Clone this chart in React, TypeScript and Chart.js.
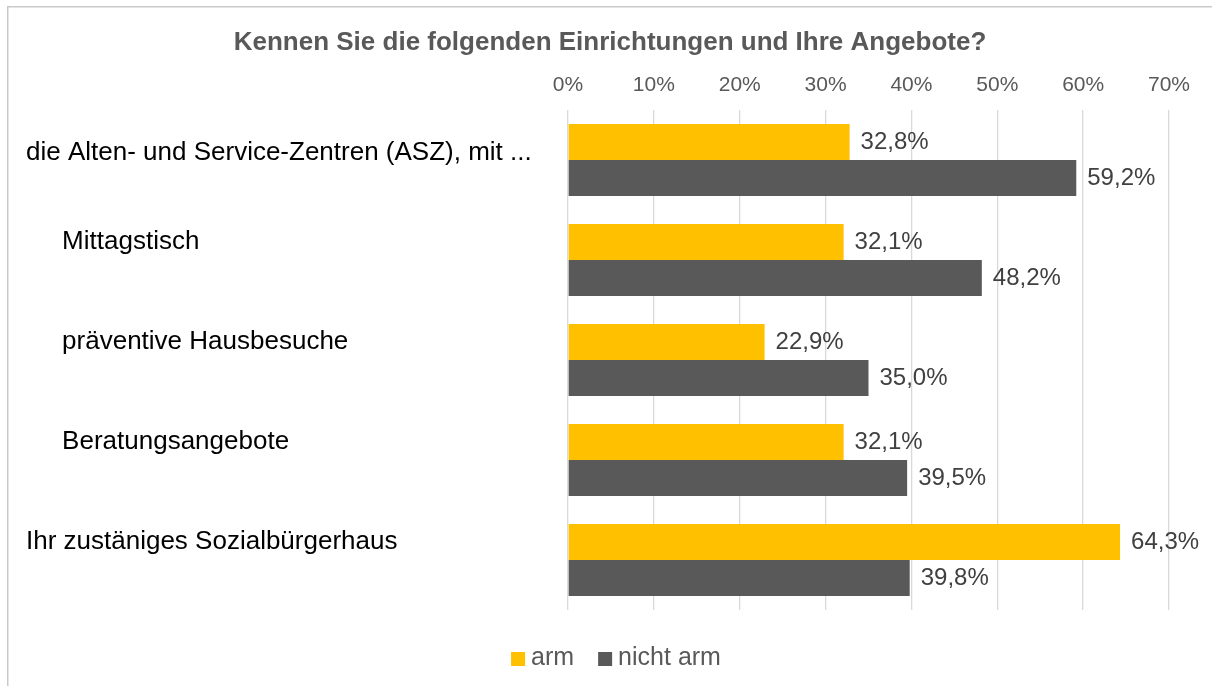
import React, { useEffect, useRef } from "react";
import { Chart, registerables } from "chart.js";

Chart.register(...registerables);

const title = "Kennen Sie die folgenden Einrichtungen und Ihre Angebote?";
const categories = [
  "die Alten- und Service-Zentren (ASZ), mit ...",
  "     Mittagstisch",
  "     präventive Hausbesuche",
  "     Beratungsangebote",
  "Ihr zustäniges Sozialbürgerhaus",
];
const armValues = [32.8, 32.1, 22.9, 32.1, 64.3];
const nichtArmValues = [59.2, 48.2, 35.0, 39.5, 39.8];
const seriesNames = ["arm", "nicht arm"];
const seriesColors = ["#FFC000", "#595959"];
const xTicks = [0, 10, 20, 30, 40, 50, 60, 70];

const FONT = "'Liberation Sans', Arial, sans-serif";
const fmt = (v: number) => v.toFixed(1).replace(".", ",") + "%";

const labelPlugin = {
  id: "customLabels",
  afterDatasetsDraw(chart: any) {
    const ctx = chart.ctx;
    const y = chart.scales.y;
    ctx.save();
    ctx.textAlign = "left";
    ctx.textBaseline = "middle";
    // title
    ctx.font = `bold 26px ${FONT}`;
    ctx.fillStyle = "#595959";
    ctx.textAlign = "center";
    ctx.fillText(title, 610, 43);
    ctx.textAlign = "left";
    // category labels
    ctx.font = `26px ${FONT}`;
    ctx.fillStyle = "#000000";
    const band = y.getPixelForValue(1) - y.getPixelForValue(0);
    categories.forEach((c, i) => {
      const py = y.getPixelForValue(i) - band * (i === 0 ? 0.07 : 0.185);
      ctx.fillText(c, 26, py);
    });
    // data labels
    ctx.font = `24px ${FONT}`;
    ctx.fillStyle = "#404040";
    chart.data.datasets.forEach((ds: any, di: number) => {
      const meta = chart.getDatasetMeta(di);
      meta.data.forEach((bar: any, i: number) => {
        ctx.fillText(fmt(ds.data[i]), bar.x + 11, bar.y);
      });
    });
    // legend
    ctx.font = `25px ${FONT}`;
    const box = 14;
    const gapBoxText = 6;
    const gapItems = 24;
    const widths = seriesNames.map((n) => box + gapBoxText + ctx.measureText(n).width);
    const total = widths.reduce((a, b) => a + b, 0) + gapItems * (seriesNames.length - 1);
    let lx = 616 - total / 2;
    const ly = chart.chartArea.bottom + 48;
    seriesNames.forEach((n, i) => {
      ctx.fillStyle = seriesColors[i];
      ctx.fillRect(lx, ly - box / 2 + 1, box, box);
      ctx.fillStyle = "#595959";
      ctx.fillText(n, lx + box + gapBoxText, ly);
      lx += widths[i] + gapItems;
    });
    ctx.restore();
  },
};

const borderPlugin = {
  id: "frame",
  beforeDraw(chart: any) {
    const ctx = chart.ctx;
    ctx.save();
    ctx.fillStyle = "#ffffff";
    ctx.fillRect(0, 0, chart.width, chart.height);
    ctx.strokeStyle = "#c9c9c9";
    ctx.lineWidth = 1.5;
    ctx.beginPath();
    ctx.moveTo(7.75, chart.height + 5);
    ctx.lineTo(7.75, 6.75);
    ctx.lineTo(chart.width + 5, 6.75);
    ctx.stroke();
    ctx.restore();
  },
};

export default function App() {
  const ref = useRef<HTMLCanvasElement>(null);
  useEffect(() => {
    if (!ref.current) return;
    const chart = new Chart(ref.current, {
      type: "bar",
      data: {
        labels: categories,
        datasets: [
          {
            label: seriesNames[0],
            data: armValues,
            backgroundColor: seriesColors[0],
            categoryPercentage: 0.72,
            barPercentage: 1.0,
          },
          {
            label: seriesNames[1],
            data: nichtArmValues,
            backgroundColor: seriesColors[1],
            categoryPercentage: 0.72,
            barPercentage: 1.0,
          },
        ],
      },
      options: {
        indexAxis: "y",
        animation: false,
        responsive: false,
        layout: { padding: { left: 0, right: 43, top: 72.4, bottom: 76 } },
        scales: {
          x: {
            position: "top",
            min: 0,
            max: 70,
            afterBuildTicks: (s: any) => {
              s.ticks = xTicks.map((v) => ({ value: v }));
            },
            afterFit: (s: any) => {
              s.height = 37.6;
            },
            ticks: {
              callback: (v: any) => v + "%",
              color: "#595959",
              font: { family: FONT, size: 21 },
              padding: 12.4,
            },
            grid: { color: "#d9d9d9", lineWidth: 1.3, drawTicks: false },
            border: { display: false },
          },
          y: {
            afterFit: (s: any) => {
              s.width = 568;
            },
            ticks: { display: false },
            grid: { display: false },
            border: { display: false },
          },
        },
        plugins: {
          title: { display: false },
          legend: { display: false },
          tooltip: { enabled: false },
        },
      },
      plugins: [borderPlugin, labelPlugin],
    });
    return () => chart.destroy();
  }, []);
  return (
    <div style={{ position: "absolute", left: 0, top: 0, width: 1212, height: 686, overflow: "hidden" }}>
      <canvas ref={ref} width={1212} height={686} style={{ display: "block" }} />
    </div>
  );
}
